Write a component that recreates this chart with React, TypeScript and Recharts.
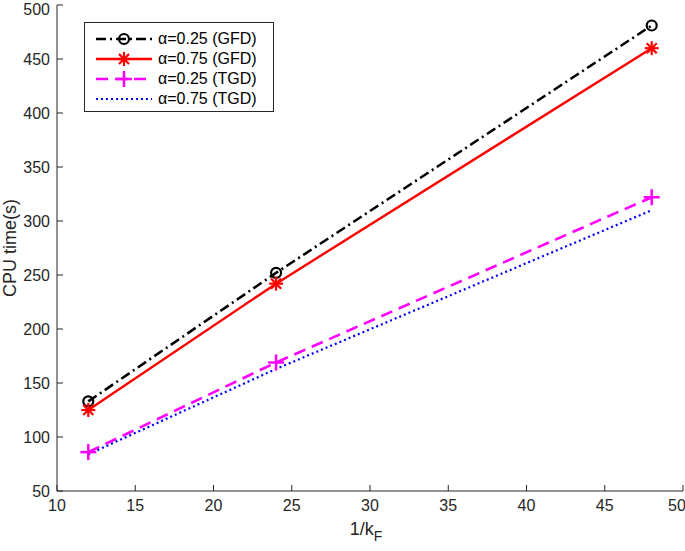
import { LineChart, Line, XAxis, YAxis } from 'recharts';

const xValues = [12, 24, 48];
const gfd025 = [133, 252, 481];
const gfd075 = [125, 242, 460];
const tgd025 = [86, 169, 322];
const tgd075 = [84, 163, 310];

const xTicks = [10, 15, 20, 25, 30, 35, 40, 45, 50];
const yTicks = [50, 100, 150, 200, 250, 300, 350, 400, 450, 500];

const seriesNames = ['α=0.25 (GFD)', 'α=0.75 (GFD)', 'α=0.25 (TGD)', 'α=0.75 (TGD)'];

const data = xValues.map((x, i) => ({
    x,
    gfd025: gfd025[i],
    gfd075: gfd075[i],
    tgd025: tgd025[i],
    tgd075: tgd075[i],
}));

const AXIS = '#262626';
const FONT = '"Liberation Sans", Arial, Helvetica, sans-serif';

const styles = [
    { key: 'gfd025', color: '#000000', dash: '10 4 2 4', width: 2.6, marker: 'circle' },
    { key: 'gfd075', color: '#ff0000', dash: undefined, width: 2.4, marker: 'star' },
    { key: 'tgd025', color: '#ff00ff', dash: '12 7', width: 2.6, marker: 'plus' },
    { key: 'tgd075', color: '#0000ff', dash: '2 3', width: 2.2, marker: 'none' },
];

const Marker = ({ type, cx, cy, color }: any) => {
    if (type === 'circle') {
        return <circle cx={cx} cy={cy} r={5} fill="none" stroke={color} strokeWidth={2.2} />;
    }
    if (type === 'star') {
        const r = 7;
        const d = r * 0.72;
        return (
            <g stroke={color} strokeWidth={2.2}>
                <line x1={cx} y1={cy - r} x2={cx} y2={cy + r} />
                <line x1={cx - r} y1={cy} x2={cx + r} y2={cy} />
                <line x1={cx - d} y1={cy - d} x2={cx + d} y2={cy + d} />
                <line x1={cx - d} y1={cy + d} x2={cx + d} y2={cy - d} />
            </g>
        );
    }
    if (type === 'plus') {
        const r = 8;
        return (
            <g stroke={color} strokeWidth={2.5}>
                <line x1={cx} y1={cy - r} x2={cx} y2={cy + r} />
                <line x1={cx - r} y1={cy} x2={cx + r} y2={cy} />
            </g>
        );
    }
    return null;
};

const makeDot = (type: string, color: string) => (props: any) => {
    const { cx, cy, index } = props;
    return (
        <g key={`${type}-${index}`}>
            <Marker type={type} cx={cx} cy={cy} color={color} />
        </g>
    );
};

const LegendBox = () => (
    <div
        style={{
            position: 'absolute',
            left: 84,
            top: 22,
            width: 190,
            height: 90,
            border: `1px solid ${AXIS}`,
            background: '#fff',
            paddingTop: 6,
            boxSizing: 'border-box',
            fontFamily: FONT,
            fontSize: 16,
            color: '#000',
        }}
    >
        {styles.map((s, i) => (
            <div key={s.key} style={{ display: 'flex', alignItems: 'center', height: 20 }}>
                <svg width={73} height={20} style={{ display: 'block', flex: 'none' }}>
                    <line
                        x1={11}
                        y1={10}
                        x2={67}
                        y2={10}
                        stroke={s.color}
                        strokeWidth={s.width}
                        strokeDasharray={s.dash}
                    />
                    <Marker type={s.marker} cx={39} cy={10} color={s.color} />
                </svg>
                <span style={{ whiteSpace: 'nowrap' }}>{seriesNames[i]}</span>
            </div>
        ))}
    </div>
);

const YLabel = () => (
    <text
        x={16}
        y={248}
        transform="rotate(-90, 16, 248)"
        textAnchor="middle"
        fontFamily={FONT}
        fontSize={18}
        fill={AXIS}
    >
        CPU time(s)
    </text>
);

const XLabel = () => (
    <text x={366} y={535} textAnchor="middle" fontFamily={FONT} fontSize={18} fill={AXIS}>
        1/k
        <tspan dy={6} fontSize={14}>F</tspan>
    </text>
);

const tickStyle = { fill: AXIS, fontSize: 16, fontFamily: FONT };

export default function App() {
    return (
        <div style={{ position: 'absolute', left: 0, top: 0, width: 685, height: 551, background: '#fff' }}>
            <LineChart
                width={685}
                height={551}
                data={data}
                margin={{ top: 5, right: 2, left: 0, bottom: 0 }}
            >
                <XAxis
                    dataKey="x"
                    type="number"
                    domain={[10, 50]}
                    ticks={xTicks}
                    height={60}
                    stroke={AXIS}
                    tickSize={-6}
                    tickMargin={15}
                    tick={tickStyle}
                    label={<XLabel />}
                />
                <XAxis
                    xAxisId="top"
                    dataKey="x"
                    type="number"
                    orientation="top"
                    domain={[10, 50]}
                    ticks={xTicks}
                    height={0}
                    stroke={AXIS}
                    tickSize={-6}
                    tick={false}
                />
                <YAxis
                    type="number"
                    domain={[50, 500]}
                    ticks={yTicks}
                    width={57}
                    stroke={AXIS}
                    tickSize={-6}
                    tickMargin={13}
                    tick={tickStyle}
                    label={<YLabel />}
                />
                <YAxis
                    yAxisId="right"
                    orientation="right"
                    type="number"
                    domain={[50, 500]}
                    ticks={yTicks}
                    width={0}
                    stroke={AXIS}
                    tickSize={-6}
                    tick={false}
                />
                {styles.map((s) => (
                    <Line
                        key={s.key}
                        dataKey={s.key}
                        stroke={s.color}
                        strokeWidth={s.width}
                        strokeDasharray={s.dash}
                        dot={makeDot(s.marker, s.color)}
                        activeDot={false}
                        isAnimationActive={false}
                    />
                ))}
            </LineChart>
            <LegendBox />
        </div>
    );
}
